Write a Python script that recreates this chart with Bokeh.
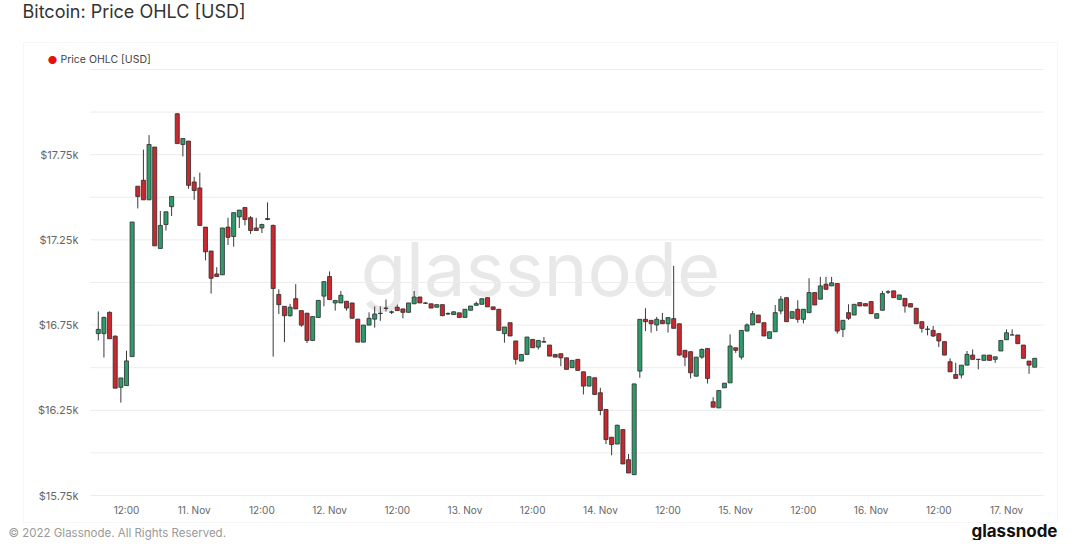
import numpy as np
from bokeh.plotting import figure
from bokeh.models import Range1d, FixedTicker, Label, BoxAnnotation
from bokeh.embed import file_html
from bokeh.resources import INLINE

# ---- data: hourly BTC candles, first candle 2022-11-10 07:00 ----
first_hour = 7  # hours after 10 Nov 00:00
open_ = [16700, 16700, 16825, 16685, 16385, 16395, 16565, 17565, 17600, 17485,
         17795, 17200, 17340, 17445, 17990, 17810, 17830, 17590, 17555, 17325,
         17185, 17050, 17045, 17325, 17270, 17385, 17440, 17380, 17320, 17320,
         17375, 17335, 16930, 16860, 16805, 16905, 16835, 16820, 16660, 16795,
         16920, 17035, 16880, 16880, 16890, 16880, 16785, 16650, 16750, 16785,
         16820, 16850, 16825, 16855, 16845, 16825, 16875, 16915, 16880, 16875,
         16855, 16870, 16818, 16812, 16822, 16795, 16837, 16866, 16872, 16911,
         16857, 16843, 16700, 16764, 16657, 16539, 16578, 16666, 16621, 16653,
         16633, 16578, 16582, 16558, 16500, 16549, 16476, 16392, 16441, 16353,
         16255, 16092, 16052, 16137, 15960, 15872, 16480, 16784, 16778, 16751,
         16778, 16758, 16788, 16758, 16602, 16594, 16450, 16562, 16613, 16300,
         16264, 16382, 16411, 16617, 16562, 16715, 16751, 16809, 16764, 16672,
         16711, 16833, 16911, 16790, 16843, 16784, 16823, 16941, 16902, 16990,
         16980, 16994, 16725, 16823, 16809, 16882, 16876, 16888, 16790, 16837,
         16945, 16951, 16901, 16907, 16876, 16849, 16770, 16727, 16719, 16700,
         16653, 16535, 16460, 16457, 16515, 16574, 16549, 16543, 16574, 16549,
         16598, 16664, 16692, 16692, 16633, 16539, 16503]
high = [16830, 16800, 16830, 16690, 16440, 16600, 17355, 17565, 17780, 17865,
        17795, 17420, 17415, 17505, 17995, 17845, 17830, 17620, 17645, 17325,
        17185, 17090, 17320, 17380, 17410, 17425, 17440, 17390, 17380, 17345,
        17470, 17340, 16960, 16860, 16875, 16990, 16835, 16820, 16800, 16895,
        17005, 17065, 16895, 16950, 16890, 16880, 16785, 16750, 16825, 16860,
        16860, 16900, 16835, 16870, 16845, 16880, 16950, 16915, 16885, 16875,
        16870, 16870, 16825, 16830, 16822, 16843, 16862, 16888, 16905, 16911,
        16857, 16843, 16739, 16764, 16657, 16578, 16680, 16666, 16660, 16680,
        16633, 16578, 16582, 16558, 16543, 16549, 16476, 16447, 16441, 16382,
        16255, 16092, 16166, 16137, 15994, 16405, 16784, 16849, 16778, 16798,
        16821, 16794, 17098, 16758, 16602, 16594, 16562, 16613, 16613, 16327,
        16366, 16409, 16696, 16617, 16719, 16760, 16833, 16809, 16764, 16711,
        16868, 16921, 16911, 16829, 16896, 16843, 17025, 16941, 17033, 17033,
        17033, 16994, 16778, 16872, 16872, 16882, 16876, 16888, 16817, 16951,
        16955, 16951, 16927, 16907, 16876, 16849, 16770, 16745, 16745, 16700,
        16653, 16555, 16529, 16515, 16598, 16607, 16551, 16574, 16574, 16564,
        16660, 16725, 16725, 16692, 16633, 16539, 16555]
low = [16660, 16560, 16670, 16380, 16295, 16395, 16565, 17435, 17485, 17485,
       17215, 17200, 17305, 17390, 17815, 17740, 17550, 17485, 17335, 17130,
       16935, 17035, 17045, 17220, 17210, 17320, 17335, 17285, 17305, 17290,
       17365, 16565, 16815, 16650, 16800, 16845, 16740, 16645, 16660, 16795,
       16860, 16900, 16835, 16880, 16835, 16790, 16650, 16650, 16750, 16735,
       16775, 16830, 16815, 16835, 16790, 16825, 16875, 16880, 16875, 16850,
       16855, 16805, 16810, 16810, 16795, 16795, 16837, 16866, 16872, 16857,
       16841, 16719, 16647, 16686, 16519, 16539, 16578, 16617, 16607, 16650,
       16568, 16562, 16509, 16490, 16500, 16484, 16343, 16392, 16343, 16221,
       16052, 15986, 16052, 15935, 15882, 15872, 16441, 16715, 16706, 16715,
       16758, 16706, 16731, 16570, 16509, 16437, 16450, 16552, 16407, 16268,
       16264, 16382, 16411, 16587, 16548, 16715, 16751, 16764, 16686, 16672,
       16711, 16813, 16770, 16790, 16764, 16760, 16823, 16868, 16902, 16960,
       16980, 16700, 16680, 16780, 16809, 16862, 16862, 16817, 16790, 16837,
       16933, 16911, 16901, 16823, 16856, 16758, 16706, 16690, 16680, 16621,
       16574, 16476, 16437, 16437, 16515, 16549, 16490, 16543, 16543, 16529,
       16598, 16664, 16692, 16641, 16555, 16464, 16503]
close = [16725, 16795, 16670, 16380, 16440, 16540, 17355, 17505, 17485, 17810,
         17215, 17335, 17415, 17505, 17815, 17845, 17570, 17540, 17335, 17180,
         17025, 17035, 17320, 17265, 17410, 17425, 17370, 17305, 17305, 17340,
         17370, 16965, 16870, 16805, 16855, 16845, 16750, 16660, 16800, 16895,
         17005, 16900, 16895, 16925, 16850, 16790, 16650, 16750, 16790, 16815,
         16818, 16848, 16828, 16835, 16825, 16880, 16915, 16880, 16878, 16850,
         16870, 16805, 16815, 16828, 16795, 16843, 16862, 16876, 16905, 16857,
         16841, 16719, 16739, 16686, 16549, 16578, 16680, 16617, 16660, 16650,
         16568, 16562, 16558, 16490, 16543, 16484, 16392, 16447, 16343, 16249,
         16078, 16049, 16162, 15935, 15882, 16405, 16784, 16770, 16758, 16784,
         16758, 16794, 16731, 16574, 16562, 16470, 16562, 16607, 16437, 16268,
         16366, 16409, 16627, 16602, 16719, 16751, 16817, 16764, 16686, 16711,
         16823, 16902, 16770, 16829, 16784, 16843, 16941, 16868, 16980, 16960,
         16998, 16715, 16778, 16790, 16872, 16862, 16862, 16817, 16817, 16935,
         16943, 16911, 16927, 16862, 16856, 16758, 16731, 16725, 16686, 16657,
         16574, 16476, 16437, 16515, 16578, 16549, 16549, 16574, 16543, 16564,
         16660, 16705, 16692, 16641, 16555, 16515, 16555]

tick_hours = [12, 24, 36, 48, 60, 72, 84, 96, 108, 120, 132, 144, 156, 168]
tick_labels = ["12:00", "11. Nov", "12:00", "12. Nov", "12:00", "13. Nov", "12:00",
               "14. Nov", "12:00", "15. Nov", "12:00", "16. Nov", "12:00", "17. Nov"]
y_label_ticks = [15750, 16250, 16750, 17250, 17750]
y_labels = ["$15.75k", "$16.25k", "$16.75k", "$17.25k", "$17.75k"]
y_grid_ticks = [15750, 16000, 16250, 16500, 16750, 17000, 17250, 17500, 17750, 18000, 18250]

GREEN = "#2f9a6a"
RED = "#c9292e"
FONT = "Inter"

# ---- layout (pixels inside the figure) ----
W, H = 1064, 540
FL, FR, FT, FB = 90, 1043, 69, 495        # plot-area edges
X0, X1 = 5.62, 174.56                      # hours shown across the plot area
Y0, Y1 = 15750.0, 18250.0                  # USD shown across the plot area
KX = (X1 - X0) / (FR - FL)
KY = (Y1 - Y0) / (FB - FT)


def xd(px):
    return X0 + (px - FL) * KX


def yd(py):
    return Y0 + (FB - py) * KY


o = np.array(open_, dtype=float)
h = np.array(high, dtype=float)
l = np.array(low, dtype=float)
c = np.array(close, dtype=float)
x = first_hour + np.arange(len(o))
up = c >= o
colors = np.where(up, GREEN, RED)

p = figure(width=W, height=H, output_backend="svg", toolbar_location=None,
           x_range=Range1d(xd(0), xd(W)), y_range=Range1d(yd(H), yd(0)),
           min_border=0, min_border_left=0, min_border_right=0,
           min_border_top=0, min_border_bottom=0)
p.background_fill_color = "white"
p.border_fill_color = "white"
p.outline_line_color = None

# card border
p.add_layout(BoxAnnotation(left=xd(23), right=xd(1057), top=yd(42), bottom=yd(522),
                           fill_color=None, fill_alpha=0, line_color="#e6e6e6", line_width=1,
                           level="underlay"))

# watermark
p.add_layout(Label(x=xd(540), y=yd(268), text="glassnode",
                   text_font=FONT, text_font_size="74px", text_color="#e8e8e8",
                   text_align="center", text_baseline="middle", level="underlay"))

# horizontal grid lines across the plot area
p.segment(x0=[X0] * len(y_grid_ticks), y0=y_grid_ticks,
          x1=[X1] * len(y_grid_ticks), y1=y_grid_ticks,
          line_color="#ececec", line_width=1)

# candles
p.segment(x0=x, y0=l, x1=x, y1=h, line_color="#3a3a3a", line_width=1)
p.vbar(x=x, width=0.72, top=np.maximum(o, c), bottom=np.minimum(o, c),
       fill_color=colors, line_color="#2c2c2c", line_width=0.8)

# axes, pinned to the plot-area edges
p.xaxis.ticker = FixedTicker(ticks=tick_hours)
p.xaxis.major_label_overrides = {t: s for t, s in zip(tick_hours, tick_labels)}
p.xaxis.fixed_location = Y0
p.yaxis.ticker = FixedTicker(ticks=y_label_ticks)
p.yaxis.major_label_overrides = {t: s for t, s in zip(y_label_ticks, y_labels)}
p.yaxis.fixed_location = X0
for ax in (p.xaxis, p.yaxis):
    ax.axis_line_color = None
    ax.major_tick_line_color = None
    ax.minor_tick_line_color = None
    ax.major_tick_in = 0
    ax.major_tick_out = 0
    ax.major_label_text_font = FONT
    ax.major_label_text_color = "#666666"
p.xaxis.major_label_text_font_size = "10px"
p.yaxis.major_label_text_font_size = "11px"
p.xaxis.major_label_standoff = 8
p.yaxis.major_label_standoff = 12
p.xgrid.grid_line_color = None
p.ygrid.grid_line_color = None

# title, legend, footer
p.add_layout(Label(x=xd(22), y=yd(0), text="Bitcoin: Price OHLC [USD]",
                   text_font=FONT, text_font_size="18px", text_color="#333333",
                   text_baseline="top"))
p.add_layout(Label(x=xd(52), y=yd(59), text="●",
                   text_font=FONT, text_font_size="11px", text_color="#e3120b",
                   text_align="center", text_baseline="middle"))
p.add_layout(Label(x=xd(60), y=yd(59), text="Price OHLC [USD]",
                   text_font=FONT, text_font_size="10.5px", text_color="#444444",
                   text_baseline="middle"))
p.add_layout(Label(x=xd(8), y=yd(539), text="© 2022 Glassnode. All Rights Reserved.",
                   text_font=FONT, text_font_size="11.5px", text_color="#999999",
                   text_baseline="bottom"))
p.add_layout(Label(x=xd(1057), y=yd(540), text="glassnode",
                   text_font=FONT, text_font_size="17px", text_color="#111111",
                   text_font_style="bold", text_align="right", text_baseline="bottom"))

open("out.html", "w").write(file_html(p, INLINE))
